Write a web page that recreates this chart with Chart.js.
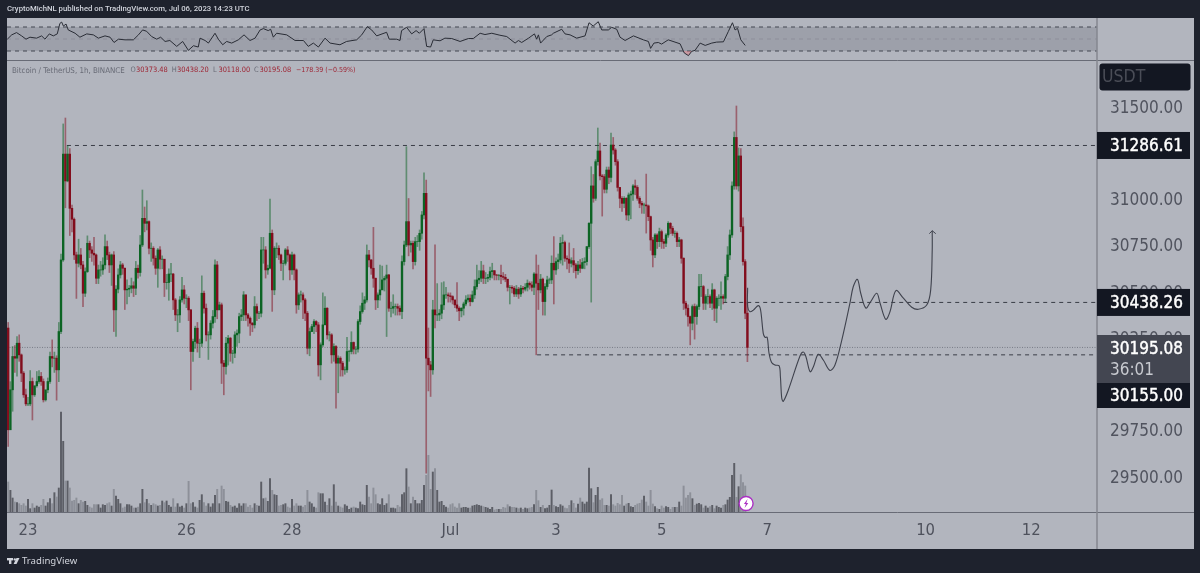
<!DOCTYPE html>
<html>
<head>
<meta charset="utf-8">
<title>BTCUSDT 1h</title>
<script src="https://cdn.jsdelivr.net/npm/chart.js@4"></script>
<style>
html, body { margin: 0; padding: 0; background: #1e222d; }
canvas { display: block; }
</style>
</head>
<body>
<canvas id="myChart" width="1200" height="573"></canvas>
<script>
// hourly candles. index 0 is 9 hours before Jun 23 00:00
const closes = [
29750,29966,30146,30137,30218,30155,30056,29939,29890,29890,30011,29939,29988,30011,30038,30011,29912,29966,30011,30146,
30137,30137,30074,30281,30668,31240,31095,31240,30947,30888,30695,30650,30695,30641,30488,30605,30758,30722,30704,30695,
30569,30614,30614,30641,30740,30695,30641,30695,30398,30510,30587,30641,30623,30506,30510,30515,30528,30515,30623,30600,
30749,30893,30866,30875,30731,30731,30677,30623,30722,30672,30672,30546,30546,30592,30592,30452,30371,30371,30452,30506,
30461,30461,30398,30173,30227,30299,30218,30218,30488,30407,30263,30263,30326,30362,30641,30398,30425,30110,30092,30218,
30245,30164,30164,30263,30272,30362,30371,30479,30371,30353,30326,30317,30416,30380,30380,30722,30722,30614,30623,30812,
30506,30731,30731,30695,30650,30650,30722,30695,30614,30695,30614,30425,30479,30479,30452,30380,30191,30281,30308,30335,
30317,30101,30209,30317,30407,30263,30263,30155,30200,30110,30137,30110,30074,30074,30173,30173,30222,30186,30186,30335,
30389,30434,30452,30695,30668,30623,30569,30452,30479,30506,30560,30569,30587,30407,30407,30416,30416,30407,30389,30659,
30749,30875,30749,30758,30659,30767,30767,30812,30911,31028,30137,30101,30074,30398,30371,30371,30380,30425,30479,30479,
30474,30470,30452,30425,30407,30393,30407,30430,30452,30461,30443,30479,30524,30560,30569,30609,30569,30569,30574,30605,
30610,30587,30585,30585,30578,30574,30564,30520,30520,30515,30484,30510,30484,30515,30510,30520,30542,30533,30520,30592,
30542,30506,30564,30443,30524,30560,30560,30650,30614,30659,30668,30758,30762,30677,30672,30650,30664,30641,30610,30641,
30623,30654,30659,30740,30866,31068,31001,31199,31257,31122,31118,31050,31154,31114,31289,31262,31199,31060,31001,30974,
31001,30911,31019,31024,31068,31060,31001,30974,30965,30965,30960,30902,30776,30695,30803,30767,30821,30767,30758,30803,
30866,30839,30812,30812,30767,30776,30677,30434,30407,30362,30326,30416,30362,30416,30524,30524,30434,30470,30470,30434,
30506,30407,30461,30461,30470,30461,30578,30695,30803,31068,31330,31068,31230,30848,30659,30380,30195.08
];
const highs = [
30330,30010,30200,30205,30254,30263,30160,30065,29970,29925,30070,30030,29985,30065,30070,30060,30025,29955,30030,30170,
30236,30170,30150,30330,30700,31403,31435,31286,31270,30965,30895,30710,30780,30730,30660,30625,30798,30770,30740,30790,
30700,30640,30660,30680,30803,30770,30710,30700,30713,30530,30620,30660,30650,30625,30560,30530,30570,30550,30660,30640,
30800,31046,30954,30988,30880,30760,30740,30690,30730,30740,30690,30670,30590,30620,30650,30595,30460,30400,30470,30574,
30530,30480,30470,30400,30240,30310,30330,30240,30582,30500,30430,30280,30340,30395,30668,30660,30440,30435,30125,30250,
30260,30250,30180,30280,30290,30380,30400,30497,30480,30380,30360,30330,30470,30430,30390,30790,30790,30740,30640,30997,
30830,30740,30760,30745,30700,30665,30730,30740,30700,30710,30700,30620,30490,30500,30490,30460,30390,30300,30320,30345,
30340,30330,30220,30490,30470,30410,30280,30270,30215,30205,30150,30145,30120,30090,30250,30180,30280,30225,30200,30345,
30420,30490,30470,30749,30720,30670,30844,30570,30490,30640,30635,30580,30640,30590,30440,30480,30430,30430,30420,30690,
30770,31280,31000,30770,30770,30790,30800,30830,30930,31139,31100,30300,30120,30450,30749,30540,30400,30545,30550,30520,
30490,30490,30475,30445,30545,30415,30410,30440,30475,30480,30480,30500,30560,30640,30610,30660,30640,30600,30590,30630,
30650,30610,30590,30590,30640,30600,30590,30560,30530,30530,30525,30530,30520,30530,30525,30540,30560,30550,30550,30600,
30695,30640,30590,30570,30540,30580,30570,30690,30794,30680,30700,30790,30803,30770,30690,30760,30680,30730,30650,30660,
30670,30676,30680,30740,30870,31172,31130,31210,31381,31300,31130,31130,31170,31170,31354,31330,31270,31210,31060,31010,
31010,31005,31030,31040,31075,31100,31070,31010,30985,30975,31132,30965,30905,30790,30810,30810,30840,30830,30780,30810,
30875,30870,30850,30825,30820,30790,30780,30680,30445,30425,30365,30425,30430,30425,30590,30590,30530,30480,30510,30480,
30540,30510,30470,30480,30550,30480,30590,30740,30830,31090,31360,31500,31273,31270,30895,30670,30438.20
];
const lows = [
29660,29840,29850,30060,30040,30120,30010,29925,29880,29880,29880,29803,29930,29980,30000,29990,29900,29905,29950,30000,
30090,30060,29910,30010,30270,30660,30950,31090,30800,30820,30670,30460,30630,30620,30416,30470,30600,30680,30660,30640,
30540,30540,30580,30590,30620,30670,30600,30530,30281,30254,30490,30570,30590,30400,30430,30470,30490,30470,30480,30570,
30580,30740,30820,30830,30700,30660,30640,30590,30520,30620,30620,30470,30510,30450,30550,30400,30340,30280,30330,30440,
30430,30410,30340,29966,30120,30190,30170,30140,30200,30380,30230,30130,30240,30300,30330,30350,30400,30000,29939,30050,
30100,30120,30110,30140,30200,30220,30340,30340,30340,30310,30260,30280,30300,30340,30350,30360,30650,30570,30590,30620,
30390,30480,30680,30670,30610,30560,30640,30660,30560,30590,30560,30380,30400,30440,30350,30340,30160,30150,30280,30270,
30280,30040,30020,30200,30380,30240,30230,30110,30120,29867,29950,30040,30040,30050,30060,30120,30160,30160,30160,30170,
30320,30380,30400,30440,30630,30590,30520,30400,30410,30450,30520,30500,30254,30390,30360,30380,30370,30370,30370,30350,
30640,30740,30690,30710,30620,30640,30740,30720,30780,30890,29516,29960,29930,30050,30300,30340,30340,30350,30400,30460,
30440,30440,30430,30410,30390,30340,30360,30370,30420,30440,30420,30440,30460,30510,30540,30550,30540,30540,30550,30560,
30570,30560,30560,30560,30540,30560,30550,30500,30430,30490,30470,30470,30460,30470,30490,30500,30500,30510,30500,30480,
30155,30400,30490,30370,30370,30510,30540,30540,30430,30590,30620,30650,30640,30660,30620,30600,30630,30600,30570,30590,
30600,30620,30620,30640,30730,30440,30980,30990,31180,31100,30905,31030,31030,31080,31090,31240,31180,31040,30950,30930,
30950,30884,30880,30890,30990,31020,30990,30950,30920,30920,30813,30880,30720,30630,30680,30730,30740,30730,30730,30740,
30790,30810,30800,30790,30740,30740,30650,30400,30370,30310,30209,30290,30240,30320,30400,30470,30400,30400,30430,30410,
30400,30340,30330,30420,30400,30430,30440,30560,30670,30790,31050,31050,31040,30820,30640,30350,30118
];
const firstOpen = 30300;
const volumes = [
90,65,42,30,28,25,20,25,18,38,10,25,12,18,15,20,38,18,28,40,25,58,45,72,300,212,93,93,72,33,35,42,25,35,30,32,20,15,12,22,
22,22,12,22,20,25,28,18,68,48,38,25,12,15,22,22,18,12,12,15,25,68,28,38,25,20,25,22,18,20,33,28,33,20,15,40,15,25,15,18,
12,25,92,25,28,15,12,35,52,28,18,25,15,25,50,68,25,78,68,32,30,20,15,18,12,25,18,25,25,15,20,12,25,20,18,90,40,42,32,100,
65,52,50,18,20,22,25,15,12,38,18,25,18,18,15,20,65,30,25,15,12,58,55,55,30,20,40,18,82,30,18,15,12,22,18,8,12,15,12,10,
30,22,20,80,45,25,72,52,25,22,40,20,25,52,12,12,10,20,15,52,58,130,75,25,45,35,25,25,35,80,110,170,68,120,130,65,30,32,20,15,
12,22,25,15,12,25,12,14,14,12,12,18,20,22,20,18,16,14,12,8,14,6,8,8,8,14,12,22,16,14,14,12,10,12,8,12,10,12,14,22,
65,34,14,20,10,12,20,66,20,16,14,22,18,12,10,20,34,26,12,24,42,30,24,30,132,70,28,50,74,36,40,20,20,18,52,22,18,26,22,50,
18,24,26,16,14,20,24,26,36,48,30,18,65,24,16,10,8,18,12,16,14,8,14,14,14,30,18,78,42,50,58,40,20,24,26,22,12,18,12,16,
20,10,18,14,12,20,22,36,44,110,146,44,76,112,88,78
];

// RSI pane, vertices of the line
const rsiHours = [
-9.4,-7.4,-5.2,-2.9,-0.9,0.9,3.9,6.2,7.7,9.7,11.5,13.3,14.5,15.3,16.1,17.3,18.3,21.4,23.6,26.7,29.7,32,35,37.3,39.1,41.1,44.1,47.9,50.2,52.1,
53.9,56.2,58.5,60.3,62.3,64.5,67.6,70.3,72.9,75.2,77.4,78.2,80.5,82,85,86.5,88.5,90.3,92.6,95.6,98.2,100.9,103.2,105.5,107,109.2,110.3,111.5,113,117.6,
121.4,125.2,127.4,129.7,132,135,137.3,141.8,144.8,149.4,151.7,154.2,156.2,158.5,163,164.2,167.6,169.1,169.8,172.1,174.4,176.4,177.9,180,181.2,183,184.2,187.3,189.5,192.6,
196.4,200.2,202.4,205.5,207.7,210.8,214.5,217.6,221.4,222.9,224.4,227.5,230.2,231.2,232,233,235.8,238,238.8,242.6,244.1,246.4,249.4,253.2,255,256.9,259.2,260.8,263.8,265.3,
267.6,269.1,271.4,275.2,279.7,282,283,284.5,286.5,288,291,296.4,298.3,300.2,301.7,303.2,305.5,307.8,310.8,313,316.1,318.3,320.2,321.4,322.5,324,326
];
const rsiValues = [
49.7,56.9,60.7,55.2,49.7,53,51.4,55.2,49.7,58.5,55.2,58.5,76,78.2,71.6,74.9,65.1,59.6,53,58.5,56.9,51.4,55.2,53,44.2,49.7,48.6,48.6,56.9,65.1,
62.9,54.1,49.7,53,45.9,47.5,37.7,45.9,31.1,38.8,36.6,51.4,47.5,43.2,59.6,49.7,40.4,45.9,43.2,48.6,56.9,47.5,51.4,65.1,67.3,64,66.2,53,59.6,56.9,
47.5,47.5,37.7,43.2,36.6,51.4,43.2,40.4,45.9,48.6,56.9,70.6,65.1,55.2,61.2,49.7,49.7,47.5,64,69.5,58.5,64,59.6,67.3,37.7,36.6,48.6,47,51.4,50.8,
45.9,50.8,50.8,59.6,57.4,59.6,56.3,54.1,43.2,47.5,44.2,51.4,58.5,49.7,56.9,43.2,54.1,56.9,59.6,66.2,58.5,56.9,51.4,55.2,77.1,71.6,78.8,65.1,65.1,69.5,
66.2,53,47.5,55.2,48.6,45.9,34.4,43.2,44.2,41.5,48.6,42,26.7,22.3,29.5,31.1,43.2,39.3,43.2,44.8,45.3,62.3,77.1,65.1,67.8,48.6,39.3
];
const rsiLevels = [70, 50, 30];

// hand drawn projection after the last candle
const pathHours = [
327.1,327.1,328.2,329.7,332,333,334.2,335,336,336.8,338,339.5,341.4,342,342.6,343.3,345.6,350.9,352.4,353.6,355.5,357,359.2,
361.5,364.5,366.8,369.9,373.6,375.1,377,378.5,380.8,383,385.8,387.3,389.9,391.8,394.5,397.9,401.7,404.7,408.5,410.3,411,411
];
const pathPrices = [
30518,30415,30388,30397,30421,30397,30271,30250,30250,30165,30113,30100,30096,30037,29922,29904,29965,30149,30170,30145,30064,30091,30158,
30127,30071,30100,30235,30434,30523,30563,30488,30408,30442,30488,30434,30347,30388,30502,30461,30412,30401,30424,30505,30722,30826
];
const arrowHours = [409.7, 411, 412.6];
const arrowPrices = [30810, 30826, 30810];

// horizontal levels: price, first hour of the line
const levelPrices = [31286.61, 30438.26, 30155.00];
const levelStarts = [17.7, 316, 231.4];
const lastPrice = 30195.08;
const countdown = '36:01';

const priceTicks = [31500, 31250, 31000, 30750, 30500, 30250, 30000, 29750, 29500];
const timeTicks = [0, 72, 120, 192, 240, 288, 336, 408, 456];
const timeLabels = ['23', '26', '28', 'Jul', '3', '5', '7', '10', '12'];

const headerText = 'CryptoMichNL published on TradingView.com, Jul 06, 2023 14:23 UTC';
const symbolText = 'Bitcoin / TetherUS, 1h, BINANCE';
const ohlcText = [['O', '30373.48'], ['H', '30438.20'], ['L', '30118.00'], ['C', '30195.08']];
const changeText = '\u2212178.39 (\u22120.59%)';

const HOUR_MIN = -9.545, HOUR_MAX = 485.9, FIRST_HOUR = -9;
const UP = '#0c6424', DOWN = '#820d1d';
const UP_WICK = 'rgba(12,100,36,0.5)', DOWN_WICK = 'rgba(130,13,29,0.5)';
const AXIS_FONT = '"DejaVu Sans Condensed", "DejaVu Sans", sans-serif';

const opens = closes.map((c, i) => i === 0 ? firstOpen : closes[i - 1]);
const isUp = closes.map((c, i) => c >= opens[i]);
const hourOf = i => i + FIRST_HOUR;

const wickData = closes.map((c, i) => ({ x: hourOf(i), y: [lows[i], highs[i]] }));
const bodyData = closes.map((c, i) => ({ x: hourOf(i), y: [Math.min(opens[i], c), Math.max(opens[i], c)] }));
const volumeData = volumes.map((v, i) => ({ x: hourOf(i), y: v }));
const zip = (xs, ys) => xs.map((x, i) => ({ x, y: ys[i] }));

function levelLine(value, from, yAxisID, color, dash, width) {
    return {
        type: 'line', yAxisID, order: 5,
        data: [{ x: from, y: value }, { x: HOUR_MAX, y: value }],
        borderColor: color, borderDash: dash, borderWidth: width,
        pointRadius: 0, fill: false
    };
}

// page frame, panes and everything outside the plot
const framePlugin = {
    id: 'frame',
    beforeDraw(chart) {
        const c = chart.ctx;
        c.save();
        c.fillStyle = '#1e222d';
        c.fillRect(0, 0, 1200, 573);
        c.fillStyle = '#b2b5be';
        c.fillRect(7, 18, 1187, 531);
        c.restore();
    },
    afterDraw(chart) {
        const c = chart.ctx;
        const y = chart.scales.y;
        c.save();

        // pane separators
        c.strokeStyle = '#686b76';
        c.lineWidth = 1;
        [[7, 60.5, 1194, 60.5], [7, 512.5, 1194, 512.5]].forEach(l => {
            c.beginPath(); c.moveTo(l[0], l[1]); c.lineTo(l[2], l[3]); c.stroke();
        });
        c.strokeStyle = '#84878f';
        c.lineWidth = 1.5;
        c.beginPath(); c.moveTo(1097, 18); c.lineTo(1097, 549); c.stroke();

        // header
        c.textBaseline = 'middle';
        c.textAlign = 'left';
        c.fillStyle = '#d1d4dc';
        c.font = '500 7.75px Roboto, sans-serif';
        c.fillText(headerText, 7, 9.5);

        // symbol legend
        c.font = '7.9px "DejaVu Sans Condensed", "DejaVu Sans", sans-serif';
        c.fillStyle = '#686b76';
        c.fillText(symbolText, 12, 70.5);
        c.font = '7.4px "DejaVu Sans Condensed", "DejaVu Sans", sans-serif';
        const ohlcX = [130.6, 171.7, 213, 254];
        ohlcText.forEach((p, i) => {
            c.fillStyle = '#686b76';
            c.fillText(p[0], ohlcX[i], 70.5);
            c.fillStyle = '#9e2433';
            c.fillText(p[1], ohlcX[i] + 5.4, 70.5);
        });
        c.font = '7px "DejaVu Sans Condensed", "DejaVu Sans", sans-serif';
        c.fillText(changeText, 296, 70.5);

        // price labels on the axis
        const box = (x, top, w, h, color) => { c.fillStyle = color; c.fillRect(x, top, w, h); };
        const label = (text, x, cy, color, font) => {
            c.fillStyle = color; c.font = font; c.fillText(text, x, cy);
        };
        const plainFont = '17px ' + AXIS_FONT;
        const strong = (text, cy) => {
            label(text, 1110, cy, '#ffffff', plainFont);
            c.strokeStyle = '#ffffff'; c.lineWidth = 0.4;
            c.strokeText(text, 1110, cy);
        };

        c.fillStyle = '#131722';
        c.beginPath(); c.roundRect(1099.5, 63.5, 91, 27, 3); c.fill();
        label('USDT', 1102, 77.5, '#4a4d57', '17.5px ' + AXIS_FONT);

        levelPrices.slice(0, 2).forEach(p => {
            const py = y.getPixelForValue(p);
            box(1097, py - 13.5, 93, 27, '#131722');
            strong(p.toFixed(2), py + 1.5);
        });
        box(1097, 335, 93, 48, '#434651');
        strong(lastPrice.toFixed(2), 349.5);
        label(countdown, 1110, 370.5, '#c8cad0', plainFont);
        box(1097, 383, 93, 25, '#131722');
        strong(levelPrices[2].toFixed(2), 396.5);

        // event badge under the last candle
        const bx = chart.scales.x.getPixelForValue(326.4);
        c.beginPath(); c.arc(bx, 503.5, 7, 0, Math.PI * 2);
        c.fillStyle = '#ffffff'; c.fill();
        c.strokeStyle = '#ab2fc4'; c.lineWidth = 1.4; c.stroke();
        c.fillStyle = '#ab2fc4';
        c.beginPath();
        c.moveTo(bx + 1.5, 499); c.lineTo(bx - 2.2, 504); c.lineTo(bx - 0.2, 504);
        c.lineTo(bx - 1.5, 508); c.lineTo(bx + 2.2, 503); c.lineTo(bx + 0.2, 503);
        c.closePath(); c.fill();

        // TradingView mark
        c.fillStyle = '#d1d4dc';
        c.fillRect(7, 558, 6, 2.4);
        c.fillRect(9, 558, 2.4, 6);
        c.beginPath(); c.arc(14.8, 559.4, 1.2, 0, Math.PI * 2); c.fill();
        c.beginPath(); c.moveTo(16.5, 558); c.lineTo(19.5, 558); c.lineTo(16.5, 564); c.lineTo(13.6, 564); c.closePath(); c.fill();
        c.font = '9.6px "Noto Sans", sans-serif';
        c.fillStyle = '#d1d4dc';
        c.fillText('TradingView', 22, 561.5);
        c.restore();
    }
};

const chart = new Chart(document.getElementById('myChart'), {
    type: 'bar',
    plugins: [framePlugin],
    data: {
        datasets: [
            // RSI band and levels
            {
                type: 'line', yAxisID: 'yRsi', order: 9,
                data: [{ x: HOUR_MIN, y: rsiLevels[0] }, { x: HOUR_MAX, y: rsiLevels[0] }],
                borderWidth: 0, pointRadius: 0,
                backgroundColor: 'rgba(110,113,125,0.3)',
                fill: { target: { value: rsiLevels[2] } }
            },
            levelLine(rsiLevels[0], HOUR_MIN, 'yRsi', '#434651', [4, 4], 1),
            levelLine(rsiLevels[1], HOUR_MIN, 'yRsi', 'rgba(120,123,134,0.45)', [4, 4], 1),
            levelLine(rsiLevels[2], HOUR_MIN, 'yRsi', '#434651', [4, 4], 1),
            {
                type: 'line', yAxisID: 'yRsi', order: 1,
                data: zip(rsiHours, rsiValues),
                borderColor: '#2a2d36', borderWidth: 1, pointRadius: 0, tension: 0,
                fill: { target: { value: rsiLevels[2] }, above: 'transparent', below: 'rgba(242,100,110,0.35)' }
            },
            // volume
            {
                yAxisID: 'yVol', order: 8, grouped: false, barThickness: 1.3,
                data: volumeData,
                backgroundColor: volumes.map((v, i) => isUp[i] ? '#5c5e66' : '#8d9099')
            },
            // candles
            {
                yAxisID: 'y', order: 4, grouped: false, barThickness: 1,
                data: wickData,
                backgroundColor: closes.map((c, i) => isUp[i] ? UP_WICK : DOWN_WICK)
            },
            {
                yAxisID: 'y', order: 3, grouped: false, barThickness: 1.7,
                data: bodyData,
                backgroundColor: closes.map((c, i) => isUp[i] ? UP : DOWN)
            },
            // levels
            levelLine(levelPrices[0], levelStarts[0], 'y', '#3a3d47', [4, 4], 1),
            levelLine(levelPrices[1], levelStarts[1], 'y', '#3a3d47', [4, 4], 1),
            levelLine(levelPrices[2], levelStarts[2], 'y', '#3a3d47', [4, 4], 1),
            levelLine(lastPrice, HOUR_MIN, 'y', '#6a6d78', [1, 1.5], 0.8),
            // drawn path
            {
                type: 'line', yAxisID: 'y', order: 2,
                data: zip(pathHours, pathPrices),
                borderColor: '#3f424d', borderWidth: 1.1, pointRadius: 0, tension: 0.35, fill: false
            },
            {
                type: 'line', yAxisID: 'y', order: 2,
                data: zip(arrowHours, arrowPrices),
                borderColor: '#3f424d', borderWidth: 1, pointRadius: 0, tension: 0, fill: false
            }
        ]
    },
    options: {
        responsive: false,
        animation: false,
        layout: { padding: { left: 7, top: 18, right: 6, bottom: 24 } },
        plugins: { legend: { display: false }, tooltip: { enabled: false } },
        scales: {
            x: {
                type: 'linear', offset: false, min: HOUR_MIN, max: HOUR_MAX,
                grid: { display: false }, border: { display: false },
                afterBuildTicks: s => { s.ticks = timeTicks.map(value => ({ value })); },
                afterFit: s => { s.height = 37; s.paddingLeft = 0; s.paddingRight = 0; },
                ticks: {
                    autoSkip: false, maxRotation: 0, padding: 1, color: '#4e515c',
                    font: { size: 16.5, family: AXIS_FONT },
                    callback: v => timeLabels[timeTicks.indexOf(v)]
                }
            },
            y: {
                position: 'right', min: 29305.6, max: 31975.6,
                grid: { display: false }, border: { display: false },
                afterBuildTicks: s => { s.ticks = priceTicks.map(value => ({ value })); },
                afterFit: s => { s.width = 97; s.paddingTop = 0; s.paddingBottom = 0; },
                ticks: {
                    autoSkip: false, padding: 5, color: '#50535e',
                    // a short empty first line pushes the label down to sit on its level
                    font: { size: 17, family: AXIS_FONT, lineHeight: 0.25 },
                    callback: v => ['', v.toFixed(2)]
                }
            },
            // both overlays span the whole plot, their ranges put them in their own strip
            yVol: { display: false, min: 0, max: 1482 },
            yRsi: { display: false, min: -738.3, max: 85 }
        }
    }
});
</script>
</body>
</html>
